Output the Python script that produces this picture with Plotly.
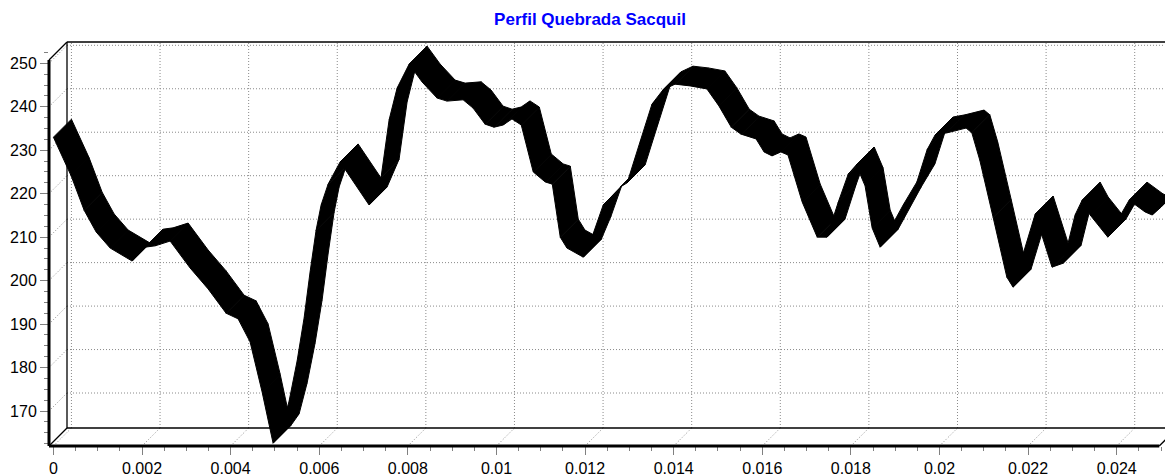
import plotly.graph_objects as go

# ---------------- data ----------------
title_text = "Perfil Quebrada Sacquil"

distance = [0.0, 0.0004, 0.000693, 0.000964, 0.00128, 0.001776, 0.00207, 0.002295, 0.002634,
            0.003085, 0.003491, 0.003898, 0.004168, 0.004439, 0.00471, 0.004958, 0.005139,
            0.00532, 0.0055, 0.005658, 0.005793, 0.005929, 0.006042, 0.0062, 0.006471,
            0.007125, 0.007396, 0.007577, 0.007757, 0.008028, 0.008321, 0.00866, 0.008886,
            0.009247, 0.009472, 0.009743, 0.009946, 0.01015, 0.01035, 0.01056, 0.01083,
            0.0111, 0.01126, 0.01144, 0.01159, 0.01196, 0.01218, 0.01241, 0.01279, 0.01295,
            0.01324, 0.01351, 0.01376, 0.01403, 0.01437, 0.01475, 0.01502, 0.0153, 0.01552,
            0.01586, 0.01604, 0.01622, 0.01642, 0.01658, 0.0169, 0.01724, 0.01746, 0.01771,
            0.01794, 0.01812, 0.01832, 0.01848, 0.01866, 0.01918, 0.01949, 0.01972, 0.0199,
            0.02017, 0.0206, 0.02073, 0.02091, 0.02121, 0.02152, 0.02166, 0.02216, 0.02254,
            0.02279, 0.02306, 0.02322, 0.0234, 0.0238, 0.02428, 0.02464, 0.0248, 0.025]

elevation = [233.0, 224.1, 216.2, 211.2, 207.5, 204.5, 207.7, 208.0, 209.1,
             202.9, 198.1, 192.5, 191.2, 185.9, 174.4, 162.6, 165.2,
             172.3, 181.5, 191.4, 202.0, 211.6, 217.4, 222.2, 227.3,
             217.4, 223.8, 237.0, 244.3, 249.8, 245.7, 242.0, 241.3,
             241.6, 239.7, 236.0, 235.3, 235.8, 237.2, 235.8, 225.0,
             222.7, 222.2, 210.0, 207.5, 205.4, 210.7, 217.4, 221.5, 222.5,
             231.9, 240.6, 243.9, 245.2, 244.8, 244.1, 240.2, 235.3, 233.7,
             232.6, 229.6, 228.7, 229.6, 228.9, 218.1, 210.0, 210.0, 217.9,
             224.5, 226.6, 221.8, 212.1, 207.7, 217.4, 222.7, 230.1, 233.5,
             234.0, 235.1, 234.0, 227.7, 214.6, 200.8, 198.5, 215.3, 203.1,
             204.0, 215.1, 218.5, 215.1, 210.0, 218.5, 215.8, 215.1, 216.9]

x_ticks = [0, 0.002, 0.004, 0.006, 0.008, 0.01, 0.012, 0.014, 0.016, 0.018, 0.02, 0.022, 0.024]
x_tick_text = ["0", "0.002", "0.004", "0.006", "0.008", "0.01", "0.012", "0.014",
               "0.016", "0.018", "0.02", "0.022", "0.024"]
y_ticks = [170, 180, 190, 200, 210, 220, 230, 240, 250]

# ---------------- layout geometry ----------------
W, H = 1165, 476
ML, MR, MT, MB = 49, 0, 42, 30
X_RANGE = [-0.0001, 0.02509]
Y_RANGE = [161.95, 254.9]
X_END = 0.02496            # end of front bottom axis
DEPTH_PX = 18              # 3D depth offset in pixels

plot_w = W - ML - MR
plot_h = H - MT - MB
DX = DEPTH_PX * (X_RANGE[1] - X_RANGE[0]) / plot_w
DY = DEPTH_PX * (Y_RANGE[1] - Y_RANGE[0]) / plot_h
Y_TOP = Y_RANGE[1] - DY    # top of front left axis
X_MIN = X_RANGE[0]
Y_MIN = Y_RANGE[0]


def px(x):
    return (x - X_RANGE[0]) / (X_RANGE[1] - X_RANGE[0])


def py(y):
    return (y - Y_RANGE[0]) / (Y_RANGE[1] - Y_RANGE[0])


GRID = "#8a8a8a"
DOT = "1px,2px"

fig = go.Figure()

# ---------------- 3D ribbon line ----------------
for i in range(len(distance) - 1):
    xs = [distance[i], distance[i + 1], distance[i + 1] + DX, distance[i] + DX, distance[i]]
    ys = [elevation[i], elevation[i + 1], elevation[i + 1] + DY, elevation[i] + DY, elevation[i]]
    fig.add_trace(go.Scatter(x=xs, y=ys, mode="lines", fill="toself",
                             fillcolor="black", line=dict(color="black", width=1),
                             hoverinfo="skip", showlegend=False))

shapes = []
# back-wall grid (dotted)
for t in x_ticks:
    shapes.append(dict(type="line", xref="paper", yref="paper",
                       x0=px(t + DX), x1=px(t + DX), y0=py(Y_MIN + DY), y1=1,
                       line=dict(color=GRID, width=1, dash=DOT), layer="below"))
    # floor diagonals
    shapes.append(dict(type="line", xref="paper", yref="paper",
                       x0=px(t), x1=px(t + DX), y0=0, y1=py(Y_MIN + DY),
                       line=dict(color=GRID, width=1, dash=DOT), layer="below"))
for v in y_ticks:
    shapes.append(dict(type="line", xref="paper", yref="paper",
                       x0=px(X_MIN + DX), x1=1, y0=py(v + DY), y1=py(v + DY),
                       line=dict(color=GRID, width=1, dash=DOT), layer="below"))
    # left wall diagonals
    shapes.append(dict(type="line", xref="paper", yref="paper",
                       x0=0, x1=px(X_MIN + DX), y0=py(v), y1=py(v + DY),
                       line=dict(color=GRID, width=1, dash=DOT), layer="below"))

# back wall frame
frame = dict(color="black", width=1.3)
shapes += [
    dict(type="line", xref="paper", yref="paper", x0=px(X_MIN + DX), x1=1.0, y0=1, y1=1,
         line=frame, layer="below"),
    dict(type="line", xref="paper", yref="paper", x0=px(X_MIN + DX), x1=px(X_MIN + DX),
         y0=py(Y_MIN + DY), y1=1, line=frame, layer="below"),
    dict(type="line", xref="paper", yref="paper", x0=px(X_MIN + DX), x1=1.0,
         y0=py(Y_MIN + DY), y1=py(Y_MIN + DY), line=frame, layer="below"),
    # corner diagonals
    dict(type="line", xref="paper", yref="paper", x0=0, x1=px(X_MIN + DX),
         y0=py(Y_TOP), y1=1, line=frame),
    dict(type="line", xref="paper", yref="paper", x0=0, x1=px(X_MIN + DX),
         y0=0, y1=py(Y_MIN + DY), line=frame),
    dict(type="line", xref="paper", yref="paper", x0=px(X_END), x1=px(X_END + DX),
         y0=0, y1=py(Y_MIN + DY), line=frame),
    # front axes (thick)
    dict(type="line", xref="paper", yref="paper", x0=0, x1=0, y0=0, y1=py(Y_TOP),
         line=dict(color="black", width=3)),
    dict(type="line", xref="paper", yref="paper", x0=0, x1=px(X_END), y0=0, y1=0,
         line=dict(color="black", width=3)),
]

x_minor = [round(k * 0.0005, 6) for k in range(0, 51) if k % 4 != 0]
y_minor = [162.5 + 2.5 * k for k in range(0, 37) if (162.5 + 2.5 * k) % 10 != 0]

tick_font = dict(family="Liberation Sans, Arial, sans-serif", size=16, color="black")

fig.update_layout(
    width=W, height=H,
    margin=dict(l=ML, r=MR, t=MT, b=MB, pad=0),
    paper_bgcolor="white", plot_bgcolor="white",
    shapes=shapes,
    title=dict(text="<b>" + title_text + "</b>", x=590 / W, xref="container", xanchor="center",
               y=1 - 19 / H, yref="container", yanchor="middle",
               font=dict(family="Liberation Sans, Arial, sans-serif", size=17, color="#0000ff")),
    xaxis=dict(range=X_RANGE, showgrid=False, zeroline=False, showline=False,
               tickmode="array", tickvals=x_ticks, ticktext=x_tick_text,
               ticks="outside", ticklen=8, tickwidth=1, tickcolor="#808080",
               tickfont=tick_font,
               minor=dict(tickmode="array", tickvals=x_minor, ticks="outside",
                          ticklen=4, tickwidth=1, tickcolor="#808080", showgrid=False)),
    yaxis=dict(range=Y_RANGE, showgrid=False, zeroline=False, showline=False,
               tickmode="array", tickvals=y_ticks,
               ticks="outside", ticklen=8, tickwidth=1, tickcolor="#808080",
               tickfont=tick_font,
               minor=dict(tickmode="array", tickvals=y_minor, ticks="outside",
                          ticklen=4, tickwidth=1, tickcolor="#808080", showgrid=False)),
    showlegend=False,
)

fig.write_html("out.html", config={"displayModeBar": False},
               post_script="document.body.style.margin='0';document.body.style.padding='0';")
